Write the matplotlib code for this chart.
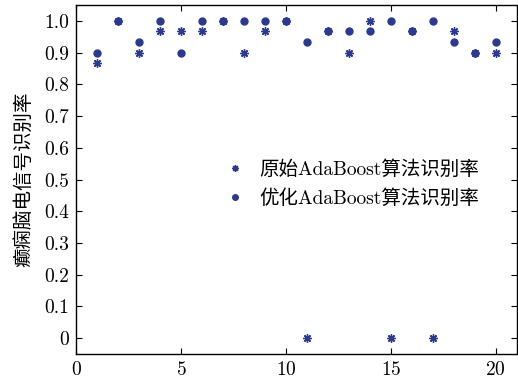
import matplotlib
matplotlib.use("Agg")
import matplotlib.pyplot as plt

plt.rcParams['font.family'] = ['cmr10', 'Noto Sans CJK SC']
plt.rcParams['axes.formatter.use_mathtext'] = True

# sample index
samples = list(range(1, 21))
# original AdaBoost recognition rate
orig_rate = [0.867, 1.0, 0.9, 0.967, 0.967, 0.967, 1.0, 0.9, 0.967, 1.0,
             0.0, 0.967, 0.9, 1.0, 0.0, 0.967, 0.0, 0.967, 0.9, 0.9]
# optimized AdaBoost recognition rate
opt_rate = [0.9, 1.0, 0.933, 1.0, 0.9, 1.0, 1.0, 1.0, 1.0, 1.0,
            0.933, 0.967, 0.967, 0.967, 1.0, 0.967, 1.0, 0.933, 0.9, 0.933]

labels = ['原始AdaBoost算法识别率', '优化AdaBoost算法识别率']
yticks = [0, 0.1, 0.2, 0.3, 0.4, 0.5, 0.6, 0.7, 0.8, 0.9, 1.0]
ytick_labels = ['0', '0.1', '0.2', '0.3', '0.4', '0.5', '0.6', '0.7', '0.8', '0.9', '1.0']

color = '#2b3990'

fig = plt.figure(figsize=(5.18, 3.83), dpi=100)
ax = fig.add_axes([0.1467, 0.0757, 0.851, 0.911])

ax.plot(samples, orig_rate, linestyle='none', marker=(8, 2, 0), markersize=6,
        markeredgewidth=1.0, color=color, label=labels[0])
ax.plot(samples, opt_rate, linestyle='none', marker='o', markersize=5,
        color=color, label=labels[1])

ax.set_xlim(0, 21)
ax.set_ylim(-0.05, 1.05)
ax.set_xticks([0, 5, 10, 15, 20])
ax.set_yticks(yticks)
ax.set_yticklabels(ytick_labels)
ax.tick_params(direction='in', top=True, right=True, labelsize=14, length=4,
               width=0.8, pad=5)
for s in ax.spines.values():
    s.set_linewidth(1.0)

ax.set_ylabel('癫痫脑电信号识别率', fontsize=14, labelpad=8)

leg = ax.legend(loc='upper left', bbox_to_anchor=(0.317, 0.555), frameon=False,
                fontsize=14, handletextpad=0.25, labelspacing=0.55,
                borderpad=0, borderaxespad=0, markerscale=0.8)

fig.savefig('out.png', dpi=100)
